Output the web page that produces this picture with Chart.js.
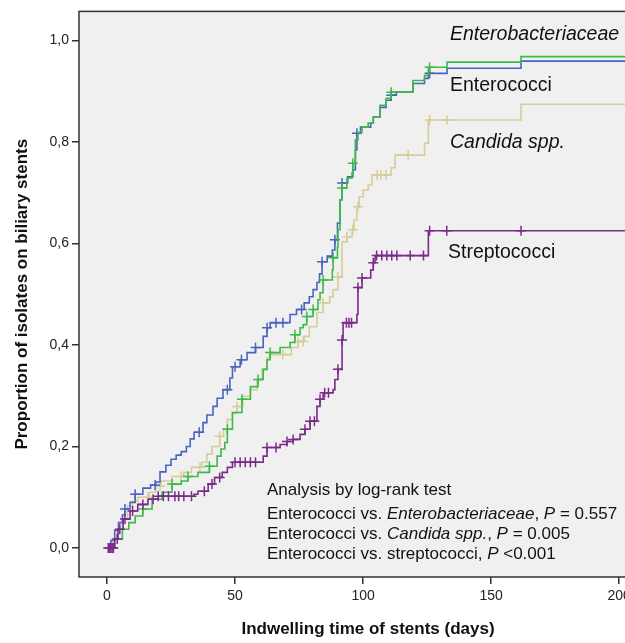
<!DOCTYPE html>
<html lang="en">
<head>
<meta charset="UTF-8">
<title>Indwelling time of biliary stents</title>
<script src="https://cdn.jsdelivr.net/npm/chart.js"></script>
<style>
    body { margin: 0; background: #fff; overflow: hidden; }
    .chart-wrap { width: 665px; height: 643px; }
</style>
</head>
<body>
<div class="chart-wrap"><canvas id="kmChart" width="665" height="643"></canvas></div>
<script>
// day of each step and cumulative proportion after that step
const enteroTimes = [0, 1.5, 3, 4.5, 6, 7, 9, 11, 14, 17, 19, 20.7, 23, 25, 27, 29, 31, 32.5, 34, 37.5, 39, 41.4, 43, 45.3, 48, 49, 52, 54.7, 58, 61, 62.5, 63.7, 71.5, 74, 77, 79, 80.5, 82, 83, 84, 86, 88, 89, 90, 91, 91.8, 94, 96, 97, 97.6, 99, 103, 104, 106.6, 109, 111, 113, 119.5, 124, 125.5, 132.8, 161.7];
const enteroValues = [0, 0.015, 0.035, 0.05, 0.065, 0.077, 0.09, 0.106, 0.118, 0.124, 0.13, 0.15, 0.163, 0.175, 0.183, 0.19, 0.2, 0.215, 0.228, 0.247, 0.262, 0.279, 0.295, 0.312, 0.335, 0.357, 0.371, 0.385, 0.395, 0.417, 0.434, 0.444, 0.46, 0.47, 0.483, 0.495, 0.509, 0.523, 0.54, 0.564, 0.575, 0.587, 0.607, 0.64, 0.686, 0.719, 0.731, 0.745, 0.784, 0.817, 0.829, 0.837, 0.849, 0.868, 0.882, 0.892, 0.898, 0.915, 0.925, 0.935, 0.945, 0.959];
const enteroCensored = [7, 11, 18.8, 36, 47, 50, 52.5, 58, 62.5, 66, 68.7, 76, 84, 89, 91.8, 97.6, 111, 126];

const bactTimes = [0, 3, 6, 8.5, 11, 14, 17.6, 21.5, 25.4, 29, 31.6, 35.5, 40, 43, 44.5, 46, 47, 49, 52.7, 56, 59, 61, 62.5, 63.7, 67.6, 71.5, 73.4, 75.4, 76.6, 78, 80.5, 82.4, 83.2, 84.4, 88, 88.3, 90, 90.2, 91, 91.8, 93.7, 95.7, 96, 97, 98, 99.6, 102, 104, 106.6, 109, 111, 119.5, 124, 125.5, 132.8, 161.7];
const bactValues = [0, 0.018, 0.037, 0.05, 0.063, 0.077, 0.096, 0.11, 0.126, 0.132, 0.141, 0.149, 0.161, 0.181, 0.195, 0.208, 0.234, 0.267, 0.293, 0.318, 0.332, 0.352, 0.371, 0.385, 0.395, 0.405, 0.42, 0.434, 0.44, 0.456, 0.47, 0.489, 0.503, 0.528, 0.548, 0.572, 0.593, 0.627, 0.686, 0.709, 0.729, 0.739, 0.758, 0.804, 0.819, 0.829, 0.837, 0.849, 0.872, 0.886, 0.898, 0.921, 0.931, 0.947, 0.957, 0.968];
const bactCensored = [14, 25.4, 31.6, 40, 47, 52.7, 59, 63.7, 73.4, 78, 80.5, 84.4, 88.3, 91.8, 96, 111, 126];

const candTimes = [0, 2, 4, 6, 8, 10, 12, 16.5, 19, 21, 25.4, 30, 33, 37, 39, 41, 44, 45.5, 47, 49, 50.8, 53, 56, 58.6, 60.5, 62.5, 63.7, 72, 74.6, 77, 79, 82, 84.4, 87, 88.3, 90.2, 91.8, 93.7, 95.7, 96.5, 97.6, 98.5, 100, 102, 103.5, 111, 112.5, 124, 125.5, 161.7];
const candValues = [0, 0.018, 0.037, 0.057, 0.083, 0.092, 0.1, 0.11, 0.122, 0.132, 0.141, 0.149, 0.159, 0.169, 0.185, 0.2, 0.22, 0.235, 0.253, 0.265, 0.279, 0.299, 0.312, 0.332, 0.352, 0.375, 0.381, 0.395, 0.407, 0.417, 0.436, 0.464, 0.483, 0.495, 0.509, 0.534, 0.603, 0.613, 0.627, 0.646, 0.672, 0.692, 0.705, 0.715, 0.735, 0.749, 0.774, 0.797, 0.843, 0.874];
const candCensored = [16, 20.7, 29, 36.3, 44, 50.8, 68.7, 74.6, 76.6, 84.4, 90.2, 93.7, 96, 98, 105.5, 107, 109, 117.6, 126, 132.8];

const streptTimes = [0, 3, 4.3, 6.3, 9, 12, 16, 20, 34, 35.5, 39.5, 42, 45, 47, 49, 61, 62.5, 67.6, 70.3, 72.7, 75.4, 77.3, 79.3, 82, 83.2, 84.4, 88.3, 89, 90.2, 91.8, 92.2, 97.6, 98, 99.6, 103, 104, 104.7, 125.5];
const streptValues = [0, 0.018, 0.037, 0.057, 0.073, 0.086, 0.096, 0.102, 0.106, 0.112, 0.126, 0.139, 0.149, 0.159, 0.169, 0.181, 0.198, 0.204, 0.21, 0.214, 0.224, 0.234, 0.25, 0.279, 0.293, 0.306, 0.312, 0.332, 0.352, 0.41, 0.444, 0.46, 0.513, 0.532, 0.548, 0.562, 0.576, 0.625];
const streptCensored = [0.5, 1, 1.5, 2, 2.5, 4, 5, 7, 10, 14, 18, 20, 22, 24, 26.5, 28, 30, 33, 38, 41, 44, 50, 52, 54, 56, 58, 62.5, 66, 70.3, 72.7, 77.3, 79.3, 81, 83.2, 85, 86.5, 90.2, 91.8, 93.5, 94.5, 95.5, 98, 99.6, 104, 105.3, 107.3, 109.3, 111.2, 113.2, 118.4, 123.6, 126, 132.7, 161.7];

const followUpEnd = 215;

const seriesNames = ['Enterobacteriaceae', 'Enterococci', 'Candida spp.', 'Streptococci'];
const xTicks = [0, 50, 100, 150, 200];
const yTicks = [0, 0.2, 0.4, 0.6, 0.8, 1.0];
const yTickLabels = ['0,0', '0,2', '0,4', '0,6', '0,8', '1,0'];
const testTitle = 'Analysis by log-rank test';
const comparisons = ['Enterobacteriaceae', 'Candida spp.', 'streptococci'];
const pValues = ['= 0.557', '= 0.005', '<0.001'];

const FONT = '"Liberation Sans", Arial, sans-serif';

function levelAt(times, values, t) {
    let v = values[0];
    for (let i = 0; i < times.length; i++) {
        if (times[i] <= t) v = values[i];
    }
    return v;
}

function stepPoints(times, values) {
    const pts = times.map((t, i) => ({ x: t, y: values[i] }));
    pts.push({ x: followUpEnd, y: values[values.length - 1] });
    return pts;
}

const series = [
    { times: streptTimes, values: streptValues, censored: streptCensored, color: '#7b2a8a' },
    { times: bactTimes, values: bactValues, censored: bactCensored, color: '#3cba47' },
    { times: enteroTimes, values: enteroValues, censored: enteroCensored, color: '#4a62c2' },
    { times: candTimes, values: candValues, censored: candCensored, color: '#d6cd98' }
];

const datasets = [];
series.forEach(s => {
    datasets.push({
        data: stepPoints(s.times, s.values),
        borderColor: s.color,
        borderWidth: 1.6,
        stepped: true,
        pointRadius: 0,
        fill: false
    });
    datasets.push({
        data: s.censored.map(t => ({ x: t, y: levelAt(s.times, s.values, t) })),
        showLine: false,
        pointStyle: 'cross',
        pointRadius: 5,
        pointBorderWidth: 1.5,
        pointBorderColor: s.color,
        pointBackgroundColor: s.color
    });
});

function drawRuns(ctx, runs, x, y, size) {
    runs.forEach(r => {
        ctx.font = (r[1] ? 'italic ' : '') + size + 'px ' + FONT;
        ctx.fillText(r[0], x, y);
        x += ctx.measureText(r[0]).width;
    });
}

const kmText = {
    id: 'kmText',
    beforeDraw(chart) {
        const { ctx, chartArea: a } = chart;
        ctx.save();
        ctx.fillStyle = '#f0f0f0';
        ctx.fillRect(a.left, a.top, a.right - a.left, a.bottom - a.top);
        ctx.restore();
    },
    afterDatasetsDraw(chart) {
        const { ctx, chartArea: a } = chart;
        ctx.save();
        ctx.strokeStyle = '#333';
        ctx.lineWidth = 1.5;
        ctx.strokeRect(a.left, a.top, a.right - a.left, a.bottom - a.top);

        ctx.fillStyle = '#111';
        ctx.textBaseline = 'middle';
        ctx.textAlign = 'left';
        // curve labels
        drawRuns(ctx, [[seriesNames[0], true]], 450, 35, 19.5);
        drawRuns(ctx, [[seriesNames[1], false]], 450, 86, 19.5);
        drawRuns(ctx, [[seriesNames[2], true]], 450, 143, 19.5);
        drawRuns(ctx, [[seriesNames[3], false]], 448, 253, 19.5);

        // log-rank box
        drawRuns(ctx, [[testTitle, false]], 267, 490, 17);
        drawRuns(ctx, [['Enterococci vs. ', false], [comparisons[0], true], [', ', false], ['P', true], [' ' + pValues[0], false]], 267, 514, 17);
        drawRuns(ctx, [['Enterococci vs. ', false], [comparisons[1], true], [', ', false], ['P', true], [' ' + pValues[1], false]], 267, 534, 17);
        drawRuns(ctx, [['Enterococci vs. ' + comparisons[2] + ', ', false], ['P', true], [' ' + pValues[2], false]], 267, 554, 17);
        ctx.restore();
    }
};

new Chart(document.getElementById('kmChart').getContext('2d'), {
    type: 'line',
    data: { datasets: datasets },
    options: {
        responsive: false,
        animation: false,
        layout: { padding: { top: 11, right: 8, left: 0, bottom: 0 } },
        plugins: { legend: { display: false }, tooltip: { enabled: false } },
        scales: {
            x: {
                type: 'linear',
                min: -10.94,
                max: 214.8,
                afterBuildTicks: s => { s.ticks = xTicks.map(v => ({ value: v })); },
                afterFit: s => { s.height = 66; },
                grid: { drawOnChartArea: false, drawTicks: true, tickLength: 7, color: '#333', lineWidth: 1.5 },
                border: { display: false },
                ticks: { padding: 4, color: '#222', font: { family: FONT, size: 14 } },
                title: {
                    display: true,
                    text: 'Indwelling time of stents (days)',
                    color: '#111',
                    font: { family: FONT, size: 17, weight: 'bold' },
                    padding: { top: 0, bottom: 3 }
                }
            },
            y: {
                min: -0.057,
                max: 1.057,
                afterBuildTicks: s => { s.ticks = yTicks.map(v => ({ value: v })); },
                afterFit: s => { s.width = 79; },
                grid: { drawOnChartArea: false, drawTicks: true, tickLength: 7, color: '#333', lineWidth: 1.5 },
                border: { display: false },
                ticks: {
                    padding: 3,
                    color: '#222',
                    font: { family: FONT, size: 14 },
                    callback: (v, i) => yTickLabels[i]
                },
                title: {
                    display: true,
                    text: 'Proportion of isolates on biliary stents',
                    color: '#111',
                    font: { family: FONT, size: 17, weight: 'bold' },
                    padding: { top: 12, bottom: 0 }
                }
            }
        }
    },
    plugins: [kmText]
});
</script>
</body>
</html>
